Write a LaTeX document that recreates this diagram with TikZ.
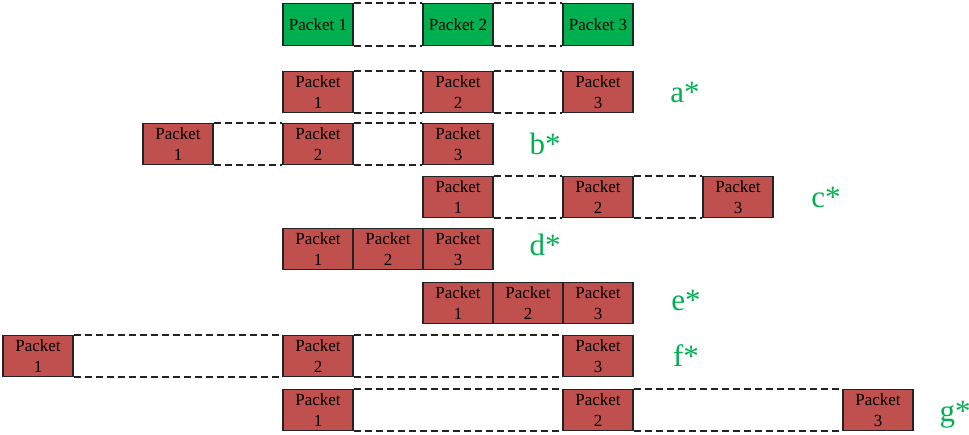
\documentclass[tikz,border=0pt]{standalone}
\usepackage{fontspec}
\setmainfont{Liberation Serif}
\definecolor{pgreen}{RGB}{0,176,80}
\definecolor{pred}{RGB}{192,80,77}
\definecolor{edge}{RGB}{35,35,35}
\begin{document}
\begin{tikzpicture}[x=1pt,y=-1pt,
  pkt/.style={draw=edge, line width=1.1pt, minimum width=70pt, minimum height=41pt, inner sep=0pt, align=center, font=\fontsize{17}{21.5}\selectfont},
  gpkt/.style={pkt, fill=pgreen},
  rpkt/.style={pkt, fill=pred},
  envelope/.style={draw=edge, line width=1.5pt, dash pattern=on 7pt off 4pt},
  lab/.style={text=pgreen, font=\fontsize{31}{31}\selectfont, inner sep=0pt}]
\useasboundingbox (0,0) rectangle (969,434);
% top row
\node[gpkt, minimum height=42pt] (t1) at (318,24.5) {Packet 1};
\node[gpkt, minimum height=42pt] (t2) at (458,24.5) {Packet 2};
\node[gpkt, minimum height=42pt] (t3) at (598,24.5) {Packet 3};
\draw[envelope] (t1.north east) -- (t2.north west) (t2.north east) -- (t3.north west)
  (t1.south east) -- (t2.south west) (t2.south east) -- (t3.south west);
% a
\node[rpkt] (a1) at (318,92) {Packet\\1};
\node[rpkt] (a2) at (458,92) {Packet\\2};
\node[rpkt] (a3) at (598,92) {Packet\\3};
\draw[envelope] (a1.north east) -- (a2.north west) (a2.north east) -- (a3.north west)
  (a1.south east) -- (a2.south west) (a2.south east) -- (a3.south west);
\node[lab] (la) at (685,92) {a*};
% b
\node[rpkt] (b1) at (178,144) {Packet\\1};
\node[rpkt] (b2) at (318,144) {Packet\\2};
\node[rpkt] (b3) at (458,144) {Packet\\3};
\draw[envelope] (b1.north east) -- (b2.north west) (b2.north east) -- (b3.north west)
  (b1.south east) -- (b2.south west) (b2.south east) -- (b3.south west);
\node[lab] (lb) at (545,144) {b*};
% c
\node[rpkt] (c1) at (458,197) {Packet\\1};
\node[rpkt] (c2) at (598,197) {Packet\\2};
\node[rpkt] (c3) at (738,197) {Packet\\3};
\draw[envelope] (c1.north east) -- (c2.north west) (c2.north east) -- (c3.north west)
  (c1.south east) -- (c2.south west) (c2.south east) -- (c3.south west);
\node[lab] (lc) at (826,197) {c*};
% d
\node[rpkt] (d1) at (318,249) {Packet\\1};
\node[rpkt] (d2) at (388,249) {Packet\\2};
\node[rpkt] (d3) at (458,249) {Packet\\3};
\node[lab] (ld) at (545,245) {d*};
% e
\node[rpkt] (e1) at (458,303) {Packet\\1};
\node[rpkt] (e2) at (528,303) {Packet\\2};
\node[rpkt] (e3) at (598,303) {Packet\\3};
\node[lab] (le) at (686,300) {e*};
% f
\node[rpkt] (f1) at (38,356) {Packet\\1};
\node[rpkt] (f2) at (318,356) {Packet\\2};
\node[rpkt] (f3) at (598,356) {Packet\\3};
\draw[envelope] (f1.north east) -- (f2.north west) (f2.north east) -- (f3.north west)
  (f1.south east) -- (f2.south west) (f2.south east) -- (f3.south west);
\node[lab] (lf) at (686,356) {f*};
% g
\node[rpkt] (g1) at (318,410) {Packet\\1};
\node[rpkt] (g2) at (598,410) {Packet\\2};
\node[rpkt] (g3) at (878,410) {Packet\\3};
\draw[envelope] (g1.north east) -- (g2.north west) (g2.north east) -- (g3.north west)
  (g1.south east) -- (g2.south west) (g2.south east) -- (g3.south west);
\node[lab] (lg) at (955,415) {g*};
\end{tikzpicture}
\end{document}
